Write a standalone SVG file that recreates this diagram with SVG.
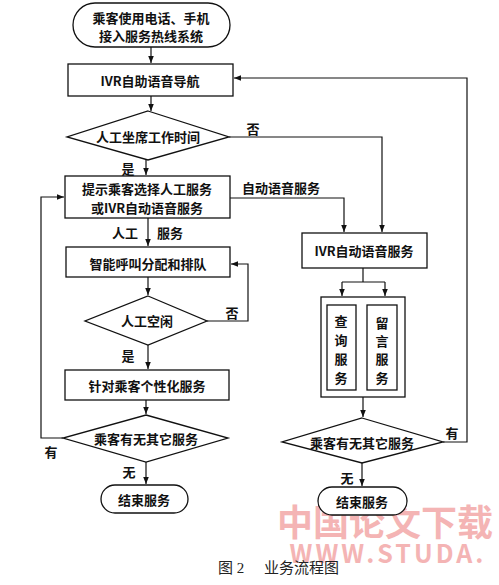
<svg xmlns="http://www.w3.org/2000/svg" width="499" height="585" viewBox="0 0 499 585">
<style>
.s{fill:#fff;stroke:#111;stroke-width:1.3}
.l{fill:none;stroke:#111;stroke-width:1.2}
.t{font-family:"Noto Sans CJK SC","Liberation Sans",sans-serif;font-size:13px;font-weight:bold;fill:#111;text-anchor:middle;dominant-baseline:central}
.c{font-family:"Liberation Serif","Noto Sans CJK SC",serif;font-size:15px;fill:#222;dominant-baseline:central}
.w{font-family:"Noto Sans CJK SC","Liberation Sans",sans-serif;font-weight:bold;fill:#f4b4b4;dominant-baseline:central}
</style>
<defs>
<marker id="a" viewBox="0 0 10 10" refX="10" refY="5" markerWidth="7" markerHeight="7" orient="auto" markerUnits="userSpaceOnUse"><path d="M0,1 L10,5 L0,9 Z" fill="#111"/></marker>
</defs>
<g id="watermark">
<text class="w" x="385" y="520" font-size="36" text-anchor="middle" letter-spacing="0">中国论文下载</text>
<text class="w" x="388" y="552" font-size="25" text-anchor="middle" letter-spacing="3">WWW.STUDA.</text>
</g>
<g id="connectors">
<path class="l" d="M151,47 V63" marker-end="url(#a)"/>
<path class="l" d="M151,96 V111" marker-end="url(#a)"/>
<path class="l" d="M229,137 H382 V232" marker-end="url(#a)"/>
<path class="l" d="M146,160 V175" marker-end="url(#a)"/>
<path class="l" d="M230,198 H344 V232" marker-end="url(#a)"/>
<path class="l" d="M148,218 V246" marker-end="url(#a)"/>
<path class="l" d="M148,277 V295" marker-end="url(#a)"/>
<path class="l" d="M207,321 H248 V264 H231" marker-end="url(#a)"/>
<path class="l" d="M148,345 V369" marker-end="url(#a)"/>
<path class="l" d="M146,400 V414" marker-end="url(#a)"/>
<path class="l" d="M63,438 H41 V197 H64" marker-end="url(#a)"/>
<path class="l" d="M146,462 V484" marker-end="url(#a)"/>
<path class="l" d="M363,268 V282"/>
<path class="l" d="M342,282 H385"/>
<path class="l" d="M342,282 V296" marker-end="url(#a)"/>
<path class="l" d="M385,282 V296" marker-end="url(#a)"/>
<path class="l" d="M363,397 V417" marker-end="url(#a)"/>
<path class="l" d="M443,442 H467 V78 H234" marker-end="url(#a)"/>
<path class="l" d="M362,463 V486" marker-end="url(#a)"/>
<text class="t" x="253" y="128">否</text>
<text class="t" x="128" y="168">是</text>
<text class="t" x="281" y="187">自动语音服务</text>
<text class="t" x="125" y="232">人工</text>
<text class="t" x="170" y="232">服务</text>
<text class="t" x="232" y="312">否</text>
<text class="t" x="128" y="355">是</text>
<text class="t" x="51" y="451">有</text>
<text class="t" x="129" y="471">无</text>
<text class="t" x="452" y="432">有</text>
<text class="t" x="347" y="477">无</text>
</g>
<g id="start">
<rect class="s" x="73" y="3" width="157" height="44" rx="22"/>
<text class="t" x="151" y="17">乘客使用电话、手机</text>
<text class="t" x="151" y="35">接入服务热线系统</text>
</g>
<g id="ivr-nav">
<rect class="s" x="68" y="64" width="165" height="32"/>
<text class="t" x="150" y="80">IVR自助语音导航</text>
</g>
<g id="d-worktime">
<polygon class="s" points="148,111 229,137 148,160 67,137"/>
<text class="t" x="148" y="136">人工坐席工作时间</text>
</g>
<g id="prompt">
<rect class="s" x="65" y="176" width="165" height="42"/>
<text class="t" x="147" y="188">提示乘客选择人工服务</text>
<text class="t" x="147" y="207">或IVR自动语音服务</text>
</g>
<g id="acd">
<rect class="s" x="66" y="247" width="164" height="30"/>
<text class="t" x="148" y="263">智能呼叫分配和排队</text>
</g>
<g id="d-idle">
<polygon class="s" points="148,296 207,321 148,345 85,321"/>
<text class="t" x="147" y="320">人工空闲</text>
</g>
<g id="personal">
<rect class="s" x="65" y="370" width="164" height="30"/>
<text class="t" x="147" y="385">针对乘客个性化服务</text>
</g>
<g id="d-other-left">
<polygon class="s" points="146,415 228,438 146,462 63,438"/>
<text class="t" x="146" y="438">乘客有无其它服务</text>
</g>
<g id="end-left">
<rect class="s" x="101" y="485" width="87" height="28" rx="14"/>
<text class="t" x="144" y="499">结束服务</text>
</g>
<g id="ivr-auto">
<rect class="s" x="302" y="233" width="125" height="35"/>
<text class="t" x="364" y="250">IVR自动语音服务</text>
</g>
<g id="services">
<rect class="s" x="321" y="297" width="84" height="100"/>
<rect class="s" x="327" y="305" width="29" height="85"/>
<rect class="s" x="367" y="305" width="30" height="85"/>
<text class="t" x="341" y="320">查</text>
<text class="t" x="341" y="339">询</text>
<text class="t" x="341" y="358">服</text>
<text class="t" x="341" y="377">务</text>
<text class="t" x="382" y="322">留</text>
<text class="t" x="382" y="340">言</text>
<text class="t" x="382" y="358">服</text>
<text class="t" x="382" y="377">务</text>
</g>
<g id="d-other-right">
<polygon class="s" points="362,418 443,442 362,463 282,442"/>
<text class="t" x="362" y="442">乘客有无其它服务</text>
</g>
<g id="end-right">
<rect class="s" x="318" y="487" width="89" height="28" rx="14"/>
<text class="t" x="362" y="501">结束服务</text>
</g>
<g id="caption">
<text class="c" x="218" y="568">图 2</text>
<text class="c" x="264" y="568">业务流程图</text>
</g>
</svg>
